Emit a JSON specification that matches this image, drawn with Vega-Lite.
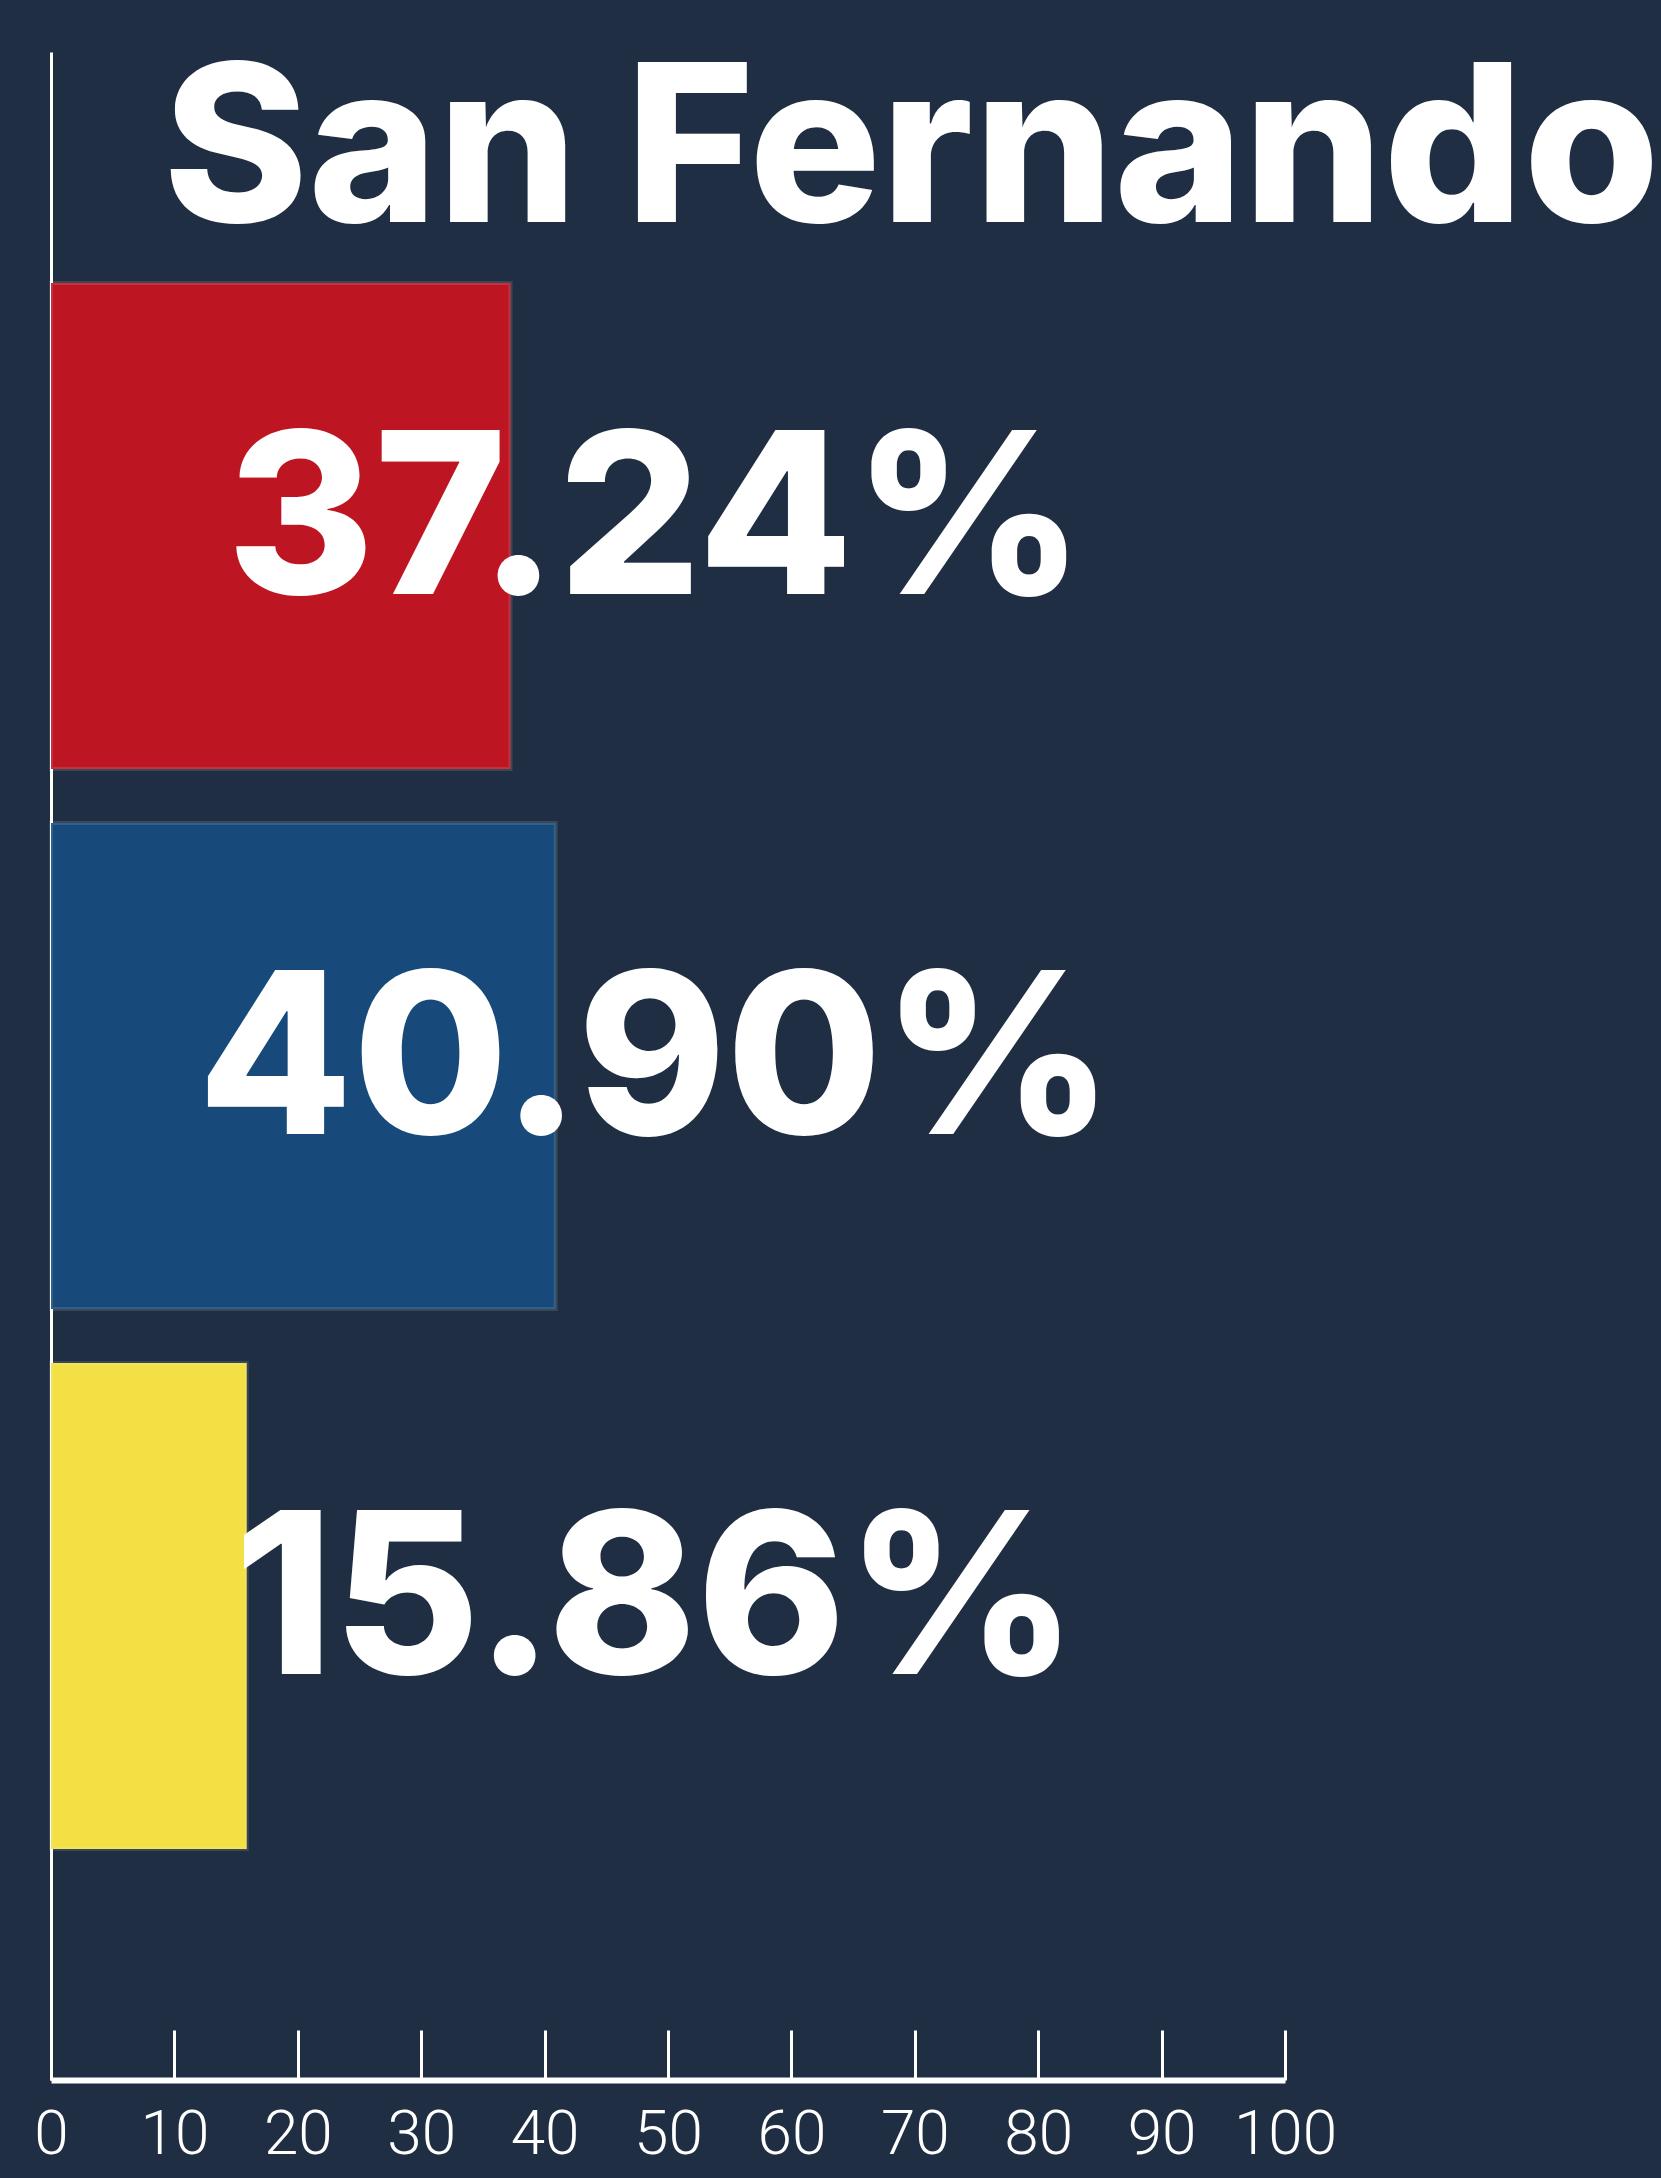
{
  "$schema": "https://vega.github.io/schema/vega-lite/v6.json",
  "width": 1234,
  "height": 2028,
  "autosize": {"type": "none"},
  "padding": {"left": 51, "top": 52, "right": 376, "bottom": 98},
  "background": "#1f2e42",
  "config": {"view": {"stroke": null}},
  "title": {
    "text": "San Fernando",
    "anchor": "start",
    "frame": "group",
    "orient": "top",
    "offset": -390,
    "baseline": "alphabetic",
    "dx": 112,
    "font": "Inter",
    "fontWeight": 800,
    "fontSize": 220,
    "color": "#ffffff"
  },
  "data": {
    "values": [
      {"party": "Rojo", "value": 37.24, "label": "37.24%"},
      {"party": "Azul", "value": 40.90, "label": "40.90%"},
      {"party": "Amarillo", "value": 15.86, "label": "15.86%"}
    ]
  },
  "encoding": {
    "y": {
      "field": "party",
      "type": "nominal",
      "sort": ["Rojo", "Azul", "Amarillo"],
      "scale": {"paddingInner": 0.1, "paddingOuter": 0.428},
      "axis": {
        "title": null,
        "labels": false,
        "ticks": false,
        "domainColor": "#ffffff",
        "domainWidth": 3
      }
    }
  },
  "layer": [
    {
      "mark": {"type": "bar", "stroke": "#ffffff", "strokeOpacity": 0.12, "strokeWidth": 4},
      "encoding": {
        "x": {
          "field": "value",
          "type": "quantitative",
          "scale": {"domain": [0, 100], "nice": false},
          "axis": {
            "title": null,
            "values": [0, 10, 20, 30, 40, 50, 60, 70, 80, 90, 100],
            "grid": false,
            "domainColor": "#ffffff",
            "domainWidth": 6,
            "tickColor": "#ffffff",
            "tickWidth": 3,
            "tickSize": -50,
            "labelColor": "#ffffff",
            "labelFont": "Roboto",
            "labelFontWeight": 300,
            "labelFontSize": 62,
            "labelPadding": 74,
            "labelBaseline": "top",
            "labelOverlap": false,
            "labelFlush": false
          }
        },
        "color": {
          "field": "party",
          "type": "nominal",
          "scale": {"domain": ["Rojo", "Azul", "Amarillo"], "range": ["#bd1622", "#174a7a", "#f2e044"]},
          "legend": null
        }
      }
    },
    {
      "mark": {
        "type": "text",
        "font": "Inter",
        "fontWeight": 800,
        "fontSize": 225,
        "color": "#ffffff",
        "align": "center",
        "baseline": "middle"
      },
      "encoding": {
        "x": {"datum": 49, "type": "quantitative"},
        "text": {"field": "label"}
      }
    }
  ]
}
